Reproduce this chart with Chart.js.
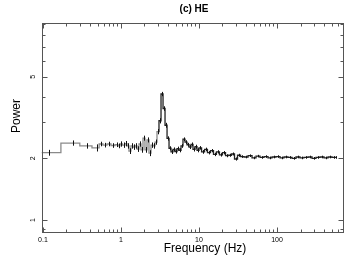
<!DOCTYPE html>
<html><head><meta charset="utf-8">
<script src="https://cdn.jsdelivr.net/npm/chart.js@4"></script>
<style>html,body{margin:0;padding:0;background:#fff}canvas{display:block}</style>
</head><body>
<canvas id="c" width="354" height="273"></canvas>
<script>
// ---- data ----
const freq = [0.119, 0.242, 0.363, 0.497, 0.554, 0.624, 0.702, 0.789, 0.889, 0.943,
  1.0, 1.09, 1.16, 1.23, 1.30, 1.38, 1.47, 1.56, 1.65, 1.75,
  1.86, 1.97, 2.09, 2.22, 2.35, 2.50, 2.65, 2.81, 2.98, 3.16,
  3.36, 3.56, 3.78, 4.01, 4.25, 4.51, 4.78, 5.07, 5.38, 5.71,
  6.05, 6.42, 6.81, 7.23, 7.67, 8.13, 8.63, 9.15, 9.71, 10.3,
  11.3, 12.3, 13.4, 14.7, 16.0, 17.5, 19.1, 20.9, 22.9, 25.0,
  27.3, 29.8, 32.6, 35.6, 40.1, 45.1, 50.7, 57.1, 64.2, 72.3,
  81.3, 91.5, 103, 116, 130, 147, 165, 186, 209, 235,
  265, 298, 335, 377, 425, 478, 538, 571];
const power = [2.13, 2.375, 2.30, 2.25, 2.35, 2.32, 2.35, 2.31, 2.33, 2.30,
  2.35, 2.32, 2.36, 2.30, 2.17, 2.30, 2.27, 2.30, 2.22, 2.35,
  2.20, 2.51, 2.20, 2.46, 2.12, 2.32, 2.30, 2.40, 2.70, 3.05,
  4.12, 3.50, 2.90, 2.50, 2.24, 2.15, 2.21, 2.16, 2.23, 2.19,
  2.30, 2.48, 2.40, 2.33, 2.27, 2.34, 2.21, 2.28, 2.19, 2.25,
  2.15, 2.21, 2.13, 2.18, 2.09, 2.15, 2.08, 2.13, 2.06, 2.07,
  2.10, 1.985, 2.07, 2.04, 2.03, 2.06, 2.01, 2.05, 2.02, 2.04,
  2.01, 2.03, 2.04, 2.01, 2.03, 2.02, 2.00, 2.03, 2.01, 2.02,
  2.03, 2.00, 2.02, 2.03, 2.01, 2.03, 2.02, 2.02];
const powerErr = [0.07, 0.07, 0.07, 0.09, 0.06, 0.06, 0.06, 0.06, 0.06, 0.06,
  0.07, 0.07, 0.07, 0.07, 0.07, 0.07, 0.07, 0.07, 0.07, 0.07,
  0.07, 0.07, 0.07, 0.07, 0.07, 0.07, 0.07, 0.07, 0.08, 0.09,
  0.10, 0.09, 0.08, 0.06, 0.05, 0.05, 0.05, 0.05, 0.05, 0.05,
  0.05, 0.05, 0.05, 0.05, 0.05, 0.05, 0.05, 0.05, 0.05, 0.045,
  0.045, 0.045, 0.04, 0.04, 0.04, 0.04, 0.04, 0.04, 0.035, 0.035,
  0.035, 0.035, 0.035, 0.03, 0.03, 0.03, 0.03, 0.03, 0.03, 0.03,
  0.03, 0.03, 0.03, 0.03, 0.03, 0.03, 0.03, 0.03, 0.03, 0.03,
  0.03, 0.03, 0.03, 0.03, 0.03, 0.03, 0.03, 0.03];
const xTickLabels = [0.1, 1, 10, 100];
const yTickLabels = [1, 2, 5];
const titleText = '(c) HE';
const xTitleText = 'Frequency (Hz)';
const yTitleText = 'Power';

const X_MIN = 0.0957, X_MAX = 695;
const Y_MIN = 0.874, Y_MAX = 9.15;
const FONT = '"Liberation Sans", Arial, Helvetica, sans-serif';
const AXIS_COLOR = '#555';

const lineData = [{x: X_MIN, y: power[0]}].concat(freq.map((f, i) => ({x: f, y: power[i]})));

function crisp(v){ return Math.round(v) + 0.5; }

const decorations = {
  id: 'decorations',
  afterDatasetsDraw(chart) {
    const {ctx, scales: {x, y}, chartArea: a} = chart;
    ctx.save();
    ctx.beginPath();
    ctx.rect(a.left, a.top, a.right - a.left, a.bottom - a.top);
    ctx.clip();
    ctx.strokeStyle = '#111';
    ctx.lineWidth = 1;
    ctx.beginPath();
    freq.forEach((f, i) => {
      const px = crisp(x.getPixelForValue(f));
      ctx.moveTo(px, y.getPixelForValue(power[i] + powerErr[i]));
      ctx.lineTo(px, y.getPixelForValue(power[i] - powerErr[i]));
    });
    ctx.stroke();
    ctx.restore();
  },
  afterDraw(chart) {
    const {ctx, scales: {x, y}, chartArea: a} = chart;
    ctx.save();
    ctx.strokeStyle = AXIS_COLOR;
    ctx.lineWidth = 1;
    const L = crisp(a.left), R = crisp(a.right), T = crisp(a.top), B = crisp(a.bottom);
    ctx.strokeRect(L, T, R - L, B - T);
    ctx.beginPath();
    for (let d = -2; d <= 3; d++) {
      for (let m = 1; m <= 9; m++) {
        const v = m * Math.pow(10, d);
        if (v < X_MIN || v > X_MAX) continue;
        const px = crisp(x.getPixelForValue(v));
        const len = m === 1 ? 5 : 3;
        ctx.moveTo(px, B); ctx.lineTo(px, B - len);
        ctx.moveTo(px, T); ctx.lineTo(px, T + len);
      }
    }
    for (let d = -1; d <= 1; d++) {
      for (let m = 1; m <= 9; m++) {
        const v = m * Math.pow(10, d);
        if (v < Y_MIN || v > Y_MAX) continue;
        const py = crisp(y.getPixelForValue(v));
        const len = yTickLabels.includes(v) ? 5 : 3;
        ctx.moveTo(L, py); ctx.lineTo(L + len, py);
        ctx.moveTo(R, py); ctx.lineTo(R - len, py);
      }
    }
    ctx.stroke();

    ctx.fillStyle = '#000';
    ctx.font = '7px ' + FONT;
    ctx.textAlign = 'center';
    ctx.textBaseline = 'middle';
    xTickLabels.forEach(v => {
      ctx.fillText(String(v), x.getPixelForValue(v), 240);
    });
    yTickLabels.forEach(v => {
      ctx.save();
      ctx.translate(33, y.getPixelForValue(v));
      ctx.rotate(-Math.PI / 2);
      ctx.fillText(String(v), 0, 0);
      ctx.restore();
    });

    ctx.font = 'bold 10px ' + FONT;
    ctx.fillText(titleText, 194, 9);
    ctx.font = '12px ' + FONT;
    ctx.fillText(xTitleText, 205, 249);
    ctx.save();
    ctx.translate(17, 116);
    ctx.rotate(-Math.PI / 2);
    ctx.fillText(yTitleText, 0, 0);
    ctx.restore();
    ctx.restore();
  }
};

new Chart(document.getElementById('c'), {
  type: 'line',
  data: {
    datasets: [{
      data: lineData,
      stepped: 'middle',
      borderColor: '#444',
      borderWidth: 1.3,
      pointRadius: 0,
      fill: false,
      segment: {
        borderColor: c => (c.p1.parsed.x < 3 ? '#8a8a8a' : '#222')
      }
    }]
  },
  options: {
    responsive: false,
    animation: false,
    devicePixelRatio: 1,
    layout: {padding: {left: 41.5, right: 11.3, top: 23, bottom: 41}},
    plugins: {legend: {display: false}, tooltip: {enabled: false}, title: {display: false}},
    scales: {
      x: {type: 'logarithmic', min: X_MIN, max: X_MAX, display: false},
      y: {type: 'logarithmic', min: Y_MIN, max: Y_MAX, display: false}
    }
  },
  plugins: [decorations]
});
</script>
</body></html>
